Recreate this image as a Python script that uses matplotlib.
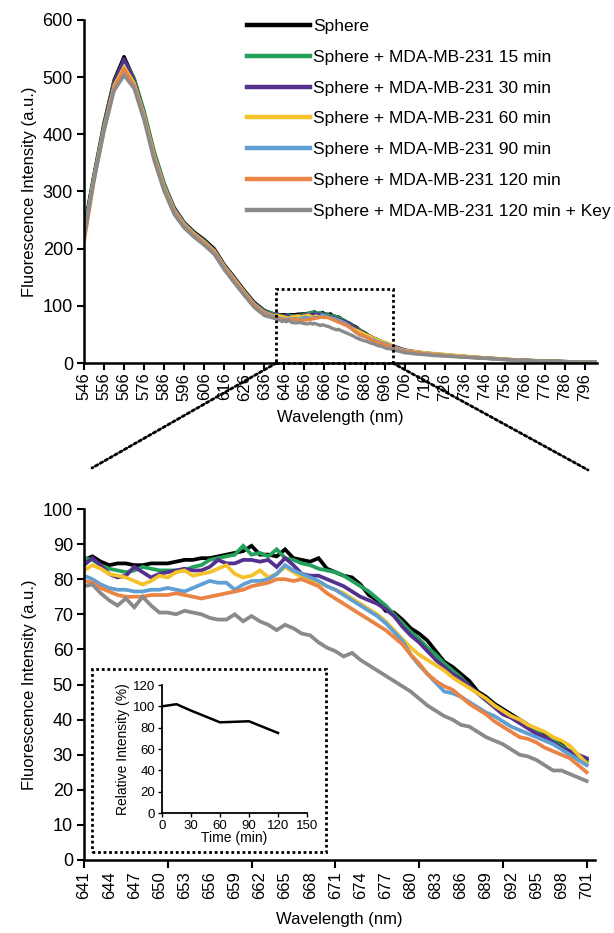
"""Fluorescence spectra of the sphere probe with MDA-MB-231 cells over time,
full range on top, 641-701 nm zoom below with relative-intensity inset."""

import matplotlib

matplotlib.use("Agg")
import matplotlib.pyplot as plt
from matplotlib.lines import Line2D
from matplotlib.patches import ConnectionPatch, Rectangle

plt.rcParams["font.family"] = ["Liberation Sans", "DejaVu Sans"]

W, H = 614, 933  # output size in px (dpi 100)

LABELS = [
    "Sphere",
    "Sphere + MDA-MB-231 15 min",
    "Sphere + MDA-MB-231 30 min",
    "Sphere + MDA-MB-231 60 min",
    "Sphere + MDA-MB-231 90 min",
    "Sphere + MDA-MB-231 120 min",
    "Sphere + MDA-MB-231 120 min + Key",
]
COLORS = ["#000000", "#23A15B", "#54318E", "#F4C22B", "#5F9FD3", "#EA8445", "#8A8A8A"]

# sampling grids (nm): coarse read-off outside the zoom window, 1 nm inside
LEFT_NM = [546, 551, 556, 561, 566, 571, 576, 581, 586, 591,
           596, 601, 606, 611, 616, 621, 626, 631, 636]
ZOOM_NM = list(range(641, 702))
RIGHT_NM = [706, 711, 716, 721, 726, 731, 736, 741, 746, 751,
            756, 761, 766, 771, 776, 781, 786, 791, 796, 801]

# --- Sphere ---
SPHERE_LEFT = [235, 330, 420, 495, 536, 497, 438, 368, 313, 272,
               246, 229, 216, 200, 172, 150, 127, 106, 92]
SPHERE_ZOOM = [85.5, 86.5, 85.0, 84.0, 84.5, 84.5, 84.0, 84.0, 84.5, 84.5,
               84.5, 85.0, 85.5, 85.5, 86.0, 86.0, 86.5, 87.0, 87.5, 88.0,
               89.5, 87.0, 87.0, 86.5, 88.5, 86.0, 85.5, 85.0, 86.0, 83.0,
               82.0, 81.0, 80.5, 78.5, 75.5, 74.0, 71.0, 70.5, 68.5, 66.0,
               64.5, 62.5, 59.5, 56.5, 55.0, 53.0, 51.0, 48.0, 46.5, 44.5,
               43.0, 41.5, 40.0, 38.5, 36.5, 35.5, 34.5, 33.0, 30.5, 29.5, 28.5]
SPHERE_RIGHT = [22, 19.5, 17.5, 15.5, 14, 12.5, 11.5, 10, 9, 7.5,
                6.5, 5.5, 5, 4, 3.5, 3, 2.5, 2, 2, 1.5]

# --- 15 min ---
M15_LEFT = [230, 328, 418, 492, 530, 499, 441, 371, 315, 270,
            245, 227, 214, 198, 170, 148, 125, 104, 91]
M15_ZOOM = [86.0, 85.5, 84.0, 83.0, 82.5, 82.0, 82.5, 83.5, 83.0, 82.5,
            82.5, 82.5, 82.5, 83.5, 84.0, 85.5, 86.0, 86.5, 87.0, 89.5,
            87.0, 87.5, 86.5, 88.5, 86.0, 85.5, 84.5, 84.0, 83.0, 82.5,
            82.0, 81.0, 79.5, 78.0, 76.5, 74.5, 72.5, 70.0, 67.5, 65.0,
            63.0, 60.5, 58.5, 56.0, 54.0, 52.0, 49.5, 47.5, 45.5, 44.0,
            42.5, 41.0, 39.5, 38.0, 36.5, 35.0, 34.0, 32.5, 31.0, 29.5, 28.0]
M15_RIGHT = [22, 19.5, 17, 15.5, 14, 12.5, 11, 10, 8.5, 7.5,
             6.5, 5.5, 4.5, 4, 3.5, 3, 2.5, 2, 1.5, 1.5]

# --- 30 min ---
M30_LEFT = [230, 326, 416, 490, 532, 495, 436, 366, 311, 270,
            244, 227, 213, 198, 170, 148, 125, 104, 90]
M30_ZOOM = [84.0, 86.0, 84.0, 81.5, 80.5, 81.0, 83.5, 82.0, 80.5, 81.5,
            82.0, 82.5, 83.0, 82.5, 82.5, 83.5, 85.5, 84.5, 84.5, 85.5,
            85.5, 85.0, 85.5, 83.5, 86.0, 84.0, 81.5, 81.0, 81.0, 80.0,
            79.0, 78.0, 76.5, 75.0, 74.0, 73.0, 71.5, 69.5, 66.5, 64.0,
            62.0, 59.5, 57.0, 55.0, 53.0, 51.5, 49.5, 47.5, 45.5, 43.5,
            41.5, 40.5, 39.0, 37.5, 36.0, 35.0, 33.5, 32.0, 31.0, 30.0, 29.0]
M30_RIGHT = [23, 20, 17.5, 16, 14.5, 13, 11.5, 10, 9, 8,
             6.5, 5.5, 5, 4, 3.5, 3, 2.5, 2, 2, 1.5]

# --- 60 min ---
M60_LEFT = [225, 325, 412, 485, 518, 490, 434, 364, 309, 268,
            243, 226, 212, 196, 169, 147, 124, 103, 89]
M60_ZOOM = [82.5, 84.0, 83.0, 81.5, 81.0, 80.5, 79.5, 78.5, 79.5, 81.0,
            80.5, 82.0, 82.5, 81.0, 81.5, 82.0, 83.0, 84.0, 81.5, 80.5,
            81.0, 82.5, 80.5, 81.5, 83.5, 82.0, 80.5, 79.5, 79.0, 78.0,
            77.0, 76.0, 74.5, 73.0, 71.5, 70.0, 68.0, 65.5, 63.0, 60.5,
            58.5, 57.0, 55.5, 54.0, 52.0, 50.5, 49.0, 47.5, 46.0, 44.0,
            42.5, 41.0, 40.0, 38.5, 37.5, 36.5, 35.0, 34.0, 32.5, 30.0, 27.5]
M60_RIGHT = [22, 20, 18, 16.5, 15, 13.5, 12, 10.5, 9, 8,
             7, 6, 5, 4.5, 3.5, 3, 2.5, 2, 2, 1.5]

# --- 90 min ---
M90_LEFT = [225, 322, 410, 482, 510, 486, 430, 360, 306, 266,
            241, 224, 210, 194, 167, 145, 122, 102, 88]
M90_ZOOM = [81.0, 80.0, 78.5, 77.5, 77.0, 77.0, 76.5, 76.5, 77.0, 77.0,
            77.5, 77.0, 76.5, 77.5, 78.5, 79.5, 79.0, 79.0, 77.0, 78.5,
            79.5, 79.5, 80.0, 81.5, 84.0, 82.5, 81.5, 80.5, 79.5, 78.0,
            77.0, 75.5, 74.0, 72.5, 71.0, 69.5, 67.5, 65.0, 62.5, 58.5,
            55.5, 53.0, 50.5, 48.0, 47.5, 46.5, 45.0, 43.5, 42.0, 41.0,
            39.5, 38.0, 37.0, 36.0, 35.0, 34.0, 33.0, 31.5, 30.0, 28.5, 27.0]
M90_RIGHT = [21, 18.5, 16.5, 15, 13.5, 12, 10.5, 9.5, 8.5, 7,
             6, 5, 4.5, 4, 3, 2.5, 2, 2, 1.5, 1]

# --- 120 min ---
M120_LEFT = [210, 318, 408, 480, 515, 484, 428, 358, 304, 264,
             239, 223, 209, 193, 166, 144, 121, 101, 86]
M120_ZOOM = [79.5, 79.0, 77.5, 76.5, 75.5, 75.0, 75.0, 75.0, 75.5, 75.5,
             75.5, 76.0, 75.5, 75.0, 74.5, 75.0, 75.5, 76.0, 76.5, 77.0,
             78.0, 78.5, 79.0, 80.0, 80.0, 79.5, 80.0, 79.0, 78.0, 76.0,
             74.5, 73.0, 71.5, 70.0, 68.5, 67.0, 65.5, 63.5, 61.5, 58.5,
             56.0, 53.0, 51.0, 49.5, 48.5, 46.5, 44.5, 43.0, 41.5, 39.5,
             38.0, 36.5, 35.0, 34.5, 33.5, 32.0, 31.0, 30.0, 29.0, 27.0, 25.0]
M120_RIGHT = [20, 18, 16, 14.5, 13, 11.5, 10.5, 9.5, 8.5, 7,
              6, 5, 4.5, 3.5, 3, 2.5, 2, 2, 1.5, 1]

# --- 120 min + Key ---
KEY_LEFT = [220, 320, 405, 476, 503, 480, 424, 354, 300, 260,
            236, 220, 206, 190, 163, 140, 118, 97, 83]
KEY_ZOOM = [78.0, 78.5, 76.0, 74.0, 72.5, 74.5, 72.0, 75.0, 72.5, 70.5,
            70.5, 70.0, 71.0, 70.5, 70.0, 69.0, 68.5, 68.5, 70.0, 68.0,
            69.5, 68.0, 67.0, 65.5, 67.0, 66.0, 64.5, 64.0, 62.0, 60.5,
            59.5, 58.0, 59.0, 57.0, 55.5, 54.0, 52.5, 51.0, 49.5, 48.0,
            46.0, 44.0, 42.5, 41.0, 40.0, 38.5, 38.0, 36.5, 35.0, 34.0,
            33.0, 31.5, 30.0, 29.5, 28.5, 27.0, 25.5, 25.5, 24.5, 23.5, 22.5]
KEY_RIGHT = [18, 16, 14.5, 13, 12, 11, 10, 9, 8, 7,
             6, 5, 4.5, 4, 3.5, 3, 2.5, 2, 2, 1.5]

SERIES_LEFT = [SPHERE_LEFT, M15_LEFT, M30_LEFT, M60_LEFT, M90_LEFT, M120_LEFT, KEY_LEFT]
SERIES_ZOOM = [SPHERE_ZOOM, M15_ZOOM, M30_ZOOM, M60_ZOOM, M90_ZOOM, M120_ZOOM, KEY_ZOOM]
SERIES_RIGHT = [SPHERE_RIGHT, M15_RIGHT, M30_RIGHT, M60_RIGHT, M90_RIGHT, M120_RIGHT, KEY_RIGHT]

# inset: relative intensity vs incubation time
INSET_TIME = [0, 15, 30, 60, 90, 120]
INSET_REL = [100, 102, 96, 85, 86, 75]

ZOOM_BOX = (642, 700, 130)  # x0, x1, top of the dotted box on the full spectrum

FS = 12
LW_DATA = 2.4
LW_SPINE = 1.8
DOTS = (0, (1, 1))


def fx(px):
    return px / W


def fy(py):
    return 1 - py / H


def style_axes(ax):
    for side in ("top", "right"):
        ax.spines[side].set_visible(False)
    for side in ("left", "bottom"):
        ax.spines[side].set_linewidth(LW_SPINE)
    ax.tick_params(direction="out", length=5, width=1.5, labelsize=FS)
    ax.tick_params(axis="y", labelsize=13, pad=3)


def main() -> None:
    fig = plt.figure(figsize=(W / 100, H / 100), dpi=100)

    # --- full spectrum ---
    ax1 = fig.add_axes([fx(84), fy(363), fx(513), 343 / H])
    for left, zoom, right, color in zip(SERIES_LEFT, SERIES_ZOOM, SERIES_RIGHT, COLORS):
        ax1.plot(LEFT_NM + ZOOM_NM + RIGHT_NM, left + zoom + right,
                 color=color, lw=LW_DATA, solid_joinstyle="round")
    style_axes(ax1)
    ax1.set_xlim(546, 802)
    ax1.set_ylim(0, 600)
    ax1.set_yticks(range(0, 601, 100))
    ax1.set_xticks(range(546, 797, 10))
    ax1.tick_params(axis="x", labelrotation=90, pad=2)
    ax1.set_xlabel("Wavelength (nm)", fontsize=FS, labelpad=7)
    ax1.set_ylabel("Fluorescence Intensity (a.u.)", fontsize=FS, labelpad=4)

    x0, x1, top = ZOOM_BOX
    ax1.add_patch(Rectangle((x0, 0), x1 - x0, top, fill=False, ec="black",
                            lw=2, ls=DOTS, clip_on=False, zorder=5))
    for xa, xb, yb in ((x0, 92, 468), (x1, 588, 470)):
        fig.add_artist(ConnectionPatch(xyA=(xa, 0), coordsA=ax1.transData,
                                       xyB=(fx(xb), fy(yb)), coordsB=fig.transFigure,
                                       color="black", lw=2, ls=DOTS))

    handles = [Line2D([], [], color=c, lw=3.2) for c in COLORS]
    fig.legend(handles, LABELS, loc="upper left", bbox_to_anchor=(fx(247), fy(19)),
               frameon=False, fontsize=12.5, handlelength=3.6, handletextpad=0.2,
               labelspacing=0.9, borderpad=0, borderaxespad=0)

    # --- zoom 641-701 nm ---
    ax2 = fig.add_axes([fx(84), fy(860), fx(511), 351 / H])
    for zoom, color in zip(SERIES_ZOOM, COLORS):
        ax2.plot(ZOOM_NM, zoom, color=color, lw=LW_DATA + 0.3, solid_joinstyle="miter")
    style_axes(ax2)
    ax2.set_xlim(641, 702)
    ax2.set_ylim(0, 100)
    ax2.set_yticks(range(0, 101, 10))
    ax2.set_xticks(ZOOM_NM[::3])
    ax2.set_xticks(ZOOM_NM[::10], minor=True)
    ax2.xaxis.remove_overlapping_locs = False
    ax2.tick_params(axis="x", which="major", length=0, labelrotation=90, pad=8)
    ax2.tick_params(axis="x", which="minor", direction="out", length=6, width=1.5)
    ax2.set_xlabel("Wavelength (nm)", fontsize=FS, labelpad=9)
    ax2.set_ylabel("Fluorescence Intensity (a.u.)", fontsize=FS, labelpad=4)

    fig.add_artist(Rectangle((fx(92), fy(852)), fx(326 - 92), (852 - 669) / H,
                             transform=fig.transFigure, fill=False, ec="black",
                             lw=2, ls=DOTS))

    # --- inset ---
    ax3 = fig.add_axes([fx(162), fy(813), fx(145), 128 / H])
    ax3.plot(INSET_TIME, INSET_REL, color="black", lw=1.8)
    for side in ("top", "right"):
        ax3.spines[side].set_visible(False)
    for side in ("left", "bottom"):
        ax3.spines[side].set_linewidth(1.3)
    ax3.set_xlim(0, 150)
    ax3.set_ylim(0, 120)
    ax3.set_xticks(range(0, 151, 30))
    ax3.set_yticks(range(0, 121, 20))
    ax3.tick_params(direction="out", length=3, width=1, labelsize=9.5, pad=2)
    ax3.set_xlabel("Time (min)", fontsize=10, labelpad=-1)
    ax3.set_ylabel("Relative Intensity (%)", fontsize=10, labelpad=2)
    ax3.patch.set_alpha(0)

    fig.savefig("out.png", dpi=100)
    plt.close(fig)


if __name__ == "__main__":
    main()
